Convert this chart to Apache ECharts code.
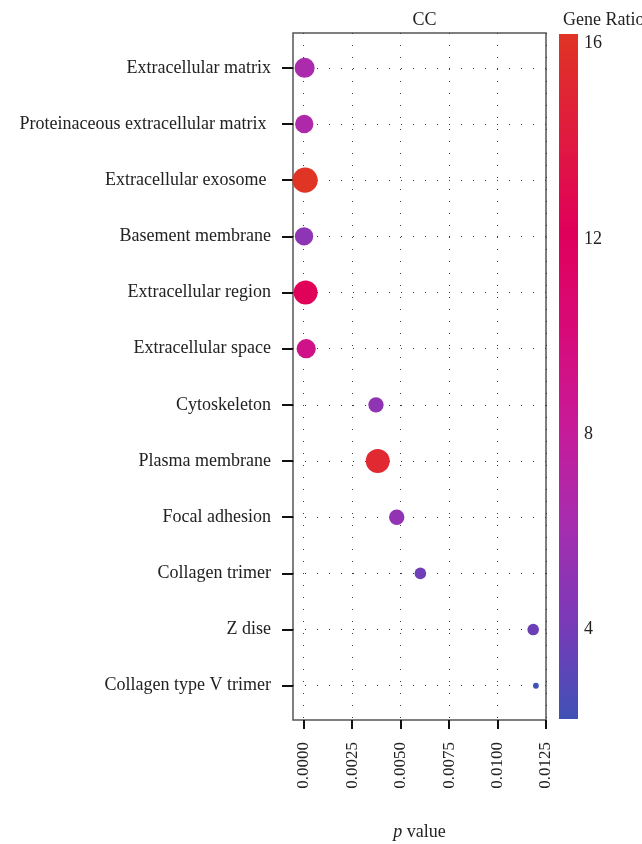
<!DOCTYPE html>
<html>
<head>
<meta charset="utf-8">
<script src="https://cdn.jsdelivr.net/npm/echarts@6/dist/echarts.min.js"></script>
<style>
  html, body { margin: 0; padding: 0; background: #fff; }
  #chart { width: 642px; height: 844px; }
</style>
</head>
<body>
<div id="chart"></div>
<script>
// GO cellular component enrichment (CC)
const categories = [
  'Extracellular matrix',
  'Proteinaceous extracellular matrix ',
  'Extracellular exosome ',
  'Basement membrane',
  'Extracellular region',
  'Extracellular space',
  'Cytoskeleton',
  'Plasma membrane',
  'Focal adhesion',
  'Collagen trimer',
  'Z dise',
  'Collagen type V trimer'
];
const pValues   = [0.00005, 0.00003, 0.00007, 0.00002, 0.0001, 0.00013, 0.00373, 0.00382, 0.0048, 0.00602, 0.01184, 0.01198];
const geneRatio = [6.4, 6.6, 16.2, 5.0, 12.3, 9.2, 5.1, 15.3, 5.2, 3.8, 3.7, 2.15];
const geneCount = [12, 10, 19, 10, 17, 11, 7, 17, 7, 4, 4, 1];
const pTicks    = [0, 0.0025, 0.005, 0.0075, 0.01, 0.0125];
const ratioTicks = [4, 8, 12, 16];

const FONT = 'Liberation Serif';
const TEXT = '#222';
const palette = ['#3F51B5', '#7B3AB8', '#A62DAE', '#C81A98', '#D80A78', '#E0005A', '#E01C3E', '#E03424'];

const ratioMin = Math.min(...geneRatio);
const ratioMax = Math.max(...geneRatio);

const points = categories.map((c, i) => [pValues[i], i, geneRatio[i], geneCount[i]]);
const rowIndex = categories.map((c, i) => i);

// gradient for the colour bar, top = max
const barStops = palette.slice().reverse().map((c, i, arr) => ({ offset: i / (arr.length - 1), color: c }));

const chart = echarts.init(document.getElementById('chart'));
chart.setOption({
  animation: false,
  backgroundColor: '#fff',
  title: [
    { text: 'CC', left: 419.5, textAlign: 'center', top: 6,
      textStyle: { fontFamily: FONT, fontSize: 18, fontWeight: 'normal', color: TEXT } },
    { text: 'Gene Ratio', left: 558, top: 6,
      textStyle: { fontFamily: FONT, fontSize: 18, fontWeight: 'normal', color: TEXT } }
  ],
  grid: [
    { left: 293, right: 96, top: 33, bottom: 124, show: true, borderColor: '#555', borderWidth: 1.5,
      containLabel: false, outerBoundsMode: 'none' },
    { left: 559, width: 19, top: 34, bottom: 125, show: false,
      containLabel: false, outerBoundsMode: 'none' }
  ],
  xAxis: [
    {
      gridIndex: 0, type: 'value', min: -0.00055, max: 0.0125,
      name: '{i|p} value', nameLocation: 'middle', nameGap: 103,
      nameTextStyle: { fontFamily: FONT, fontSize: 18, color: TEXT,
        rich: { i: { fontFamily: FONT, fontSize: 18, fontStyle: 'italic', color: TEXT } } },
      axisLine: { show: false, onZero: false },
      axisTick: { show: true, length: 9, lineStyle: { color: '#111', width: 2 }, customValues: pTicks },
      axisLabel: { rotate: 90, margin: 22, fontFamily: FONT, fontSize: 17, color: TEXT,
        customValues: pTicks, formatter: v => v.toFixed(4) },
      splitLine: { show: true, lineStyle: { color: '#3a3a3a', width: 1, type: [1, 11] } }
    },
    { gridIndex: 1, type: 'category', data: [''], show: false }
  ],
  yAxis: [
    {
      gridIndex: 0, type: 'value', inverse: true, min: -0.62, max: categories.length - 1 + 0.61,
      axisLine: { show: false, onZero: false },
      axisTick: { show: true, length: 11, lineStyle: { color: '#111', width: 2 }, customValues: rowIndex },
      axisLabel: { margin: 22, fontFamily: FONT, fontSize: 18, color: TEXT,
        customValues: rowIndex, formatter: v => categories[v] },
      splitLine: { show: true, lineStyle: { color: '#3a3a3a', width: 1, type: [1, 11] } }
    },
    {
      gridIndex: 1, type: 'value', position: 'right', min: ratioMin, max: ratioMax,
      axisLine: { show: false, onZero: false },
      axisTick: { show: true, inside: true, length: 6, lineStyle: { color: '#fff', width: 1.5 },
        customValues: ratioTicks },
      axisLabel: { margin: 6, fontFamily: FONT, fontSize: 18, color: TEXT, customValues: ratioTicks },
      splitLine: { show: false }
    }
  ],
  visualMap: {
    type: 'continuous', show: false, seriesIndex: 0, dimension: 2,
    min: ratioMin, max: ratioMax, inRange: { color: palette }
  },
  series: [
    {
      type: 'scatter', xAxisIndex: 0, yAxisIndex: 0,
      data: points,
      symbolSize: d => 5.8 * Math.sqrt(d[3]),
      itemStyle: { opacity: 1 }
    },
    {
      type: 'bar', xAxisIndex: 1, yAxisIndex: 1, stack: 'cb', barWidth: '100%',
      data: [ratioMin], itemStyle: { color: 'rgba(0,0,0,0)' }, silent: true
    },
    {
      type: 'bar', xAxisIndex: 1, yAxisIndex: 1, stack: 'cb', barWidth: '100%',
      data: [ratioMax - ratioMin], silent: true,
      itemStyle: { color: new echarts.graphic.LinearGradient(0, 0, 0, 1, barStops) }
    }
  ]
});
</script>
</body>
</html>
